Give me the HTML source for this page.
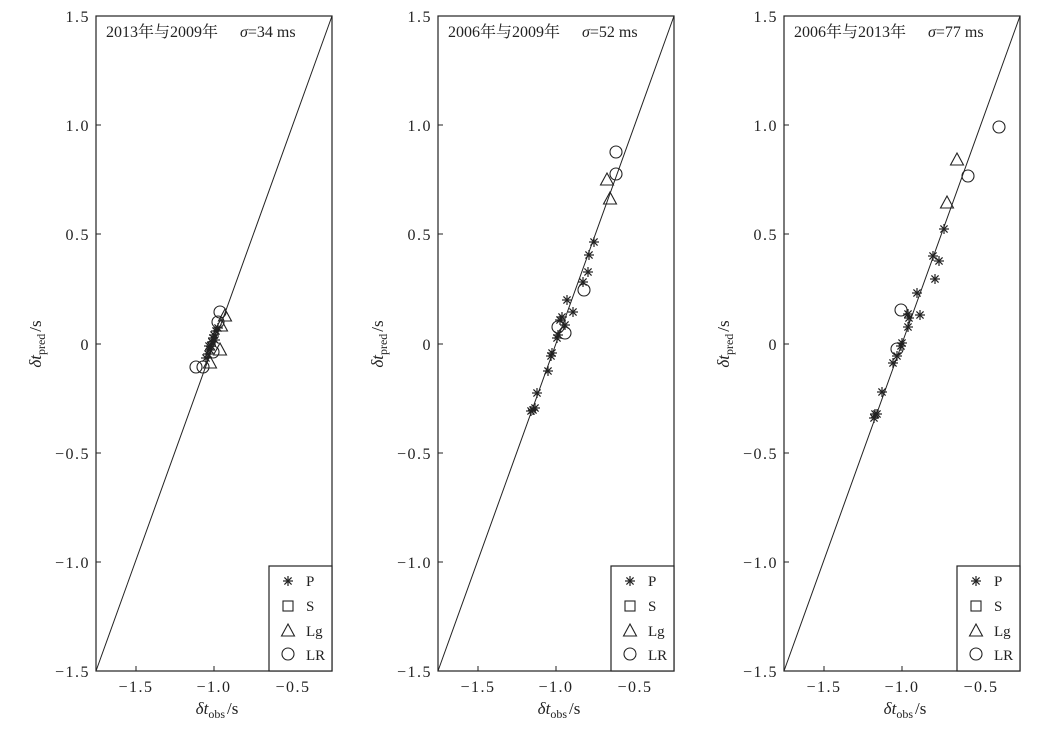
<!DOCTYPE html>
<html><head><meta charset="utf-8"><style>
html,body{margin:0;padding:0;background:#fff}
svg{display:block}
text{font-family:"Liberation Serif","Noto Serif CJK SC",serif;fill:#222}
.tk{letter-spacing:1.5px}
</style></head><body>
<svg width="1061" height="730" viewBox="0 0 1061 730" xmlns="http://www.w3.org/2000/svg">
<defs>
<g id="st" stroke="#222" stroke-width="1.2" fill="none"><line x1="-5" y1="0" x2="5" y2="0"/><line x1="0" y1="-5" x2="0" y2="5"/><line x1="-3.6" y1="-3.6" x2="3.6" y2="3.6"/><line x1="-3.6" y1="3.6" x2="3.6" y2="-3.6"/></g>
<circle id="ci" r="6" stroke="#222" stroke-width="1.1" fill="none"/>
<path id="tr" d="M0,-7 L6.5,5 L-6.5,5 Z" stroke="#222" stroke-width="1.1" fill="none"/>
<rect id="sq" x="-5" y="-5" width="10" height="10" stroke="#222" stroke-width="1.1" fill="none"/>
<g id="panel">
<rect x="96" y="16" width="236" height="655" fill="none" stroke="#222" stroke-width="1.2"/>
<line x1="96" y1="671" x2="332" y2="16" stroke="#222" stroke-width="1"/>
<g stroke="#222" stroke-width="1">
<line x1="96" y1="16" x2="101" y2="16"/><line x1="96" y1="125" x2="101" y2="125"/><line x1="96" y1="234" x2="101" y2="234"/><line x1="96" y1="344" x2="101" y2="344"/><line x1="96" y1="453" x2="101" y2="453"/><line x1="96" y1="562" x2="101" y2="562"/><line x1="96" y1="671" x2="101" y2="671"/>
<line x1="136" y1="671" x2="136" y2="666"/><line x1="214" y1="671" x2="214" y2="666"/><line x1="293" y1="671" x2="293" y2="666"/>
</g>
<g font-size="16" text-anchor="end" class="tk">
<text x="90" y="22">1.5</text><text x="90" y="131">1.0</text><text x="90" y="240">0.5</text><text x="90" y="350">0</text><text x="90" y="459">−0.5</text><text x="90" y="568">−1.0</text><text x="90" y="677">−1.5</text>
</g>
<g font-size="16" text-anchor="middle" class="tk">
<text x="136" y="692">−1.5</text><text x="214" y="692">−1.0</text><text x="293" y="692">−0.5</text>
</g>
<text x="217" y="714" font-size="17" text-anchor="middle"><tspan font-style="italic">δt</tspan><tspan font-size="12" dy="4">obs</tspan><tspan dy="-4" dx="2">/s</tspan></text>
<text transform="translate(41,344) rotate(-90)" font-size="17" text-anchor="middle"><tspan font-style="italic">δt</tspan><tspan font-size="12" dy="4">pred</tspan><tspan dy="-4" dx="2">/s</tspan></text>
<rect x="269" y="566" width="63" height="105" fill="#fff" stroke="#222" stroke-width="1.2"/>
<use href="#st" x="288" y="581"/><use href="#sq" x="288" y="606"/><use href="#tr" x="288" y="631"/><use href="#ci" x="288" y="654"/>
<g font-size="15"><text x="306" y="586">P</text><text x="306" y="611">S</text><text x="306" y="636">Lg</text><text x="306" y="660">LR</text></g>
</g>
</defs>
<use href="#panel"/>
<use href="#panel" x="342"/>
<use href="#panel" x="688"/>
<g font-size="16"><text x="106" y="37">2013年与2009年 <tspan dx="18" font-style="italic">σ</tspan>=34 ms</text>
<text x="448" y="37">2006年与2009年 <tspan dx="18" font-style="italic">σ</tspan>=52 ms</text>
<text x="794" y="37">2006年与2013年 <tspan dx="18" font-style="italic">σ</tspan>=77 ms</text></g>
<!-- panel 1 -->
<use href="#ci" x="196" y="367"/><use href="#ci" x="203" y="367"/><use href="#ci" x="220" y="312"/><use href="#ci" x="218" y="322"/><use href="#ci" x="213" y="352"/>
<use href="#tr" x="225" y="316"/><use href="#tr" x="221" y="326"/><use href="#tr" x="220" y="350"/><use href="#tr" x="210" y="363"/>
<use href="#st" x="206" y="358"/><use href="#st" x="208" y="354"/><use href="#st" x="210" y="350"/><use href="#st" x="211" y="346"/><use href="#st" x="212" y="342"/><use href="#st" x="213" y="338"/><use href="#st" x="214" y="335"/><use href="#st" x="216" y="331"/><use href="#st" x="218" y="328"/><use href="#st" x="209" y="346"/><use href="#st" x="215" y="340"/>
<!-- panel 2 -->
<use href="#ci" x="616" y="152"/><use href="#ci" x="616" y="174"/><use href="#ci" x="584" y="290"/><use href="#ci" x="558" y="327"/><use href="#ci" x="565" y="333"/>
<use href="#tr" x="607" y="180"/><use href="#tr" x="610" y="199"/>
<use href="#st" x="533" y="410"/><use href="#st" x="535" y="408"/><use href="#st" x="537" y="393"/><use href="#st" x="548" y="371"/><use href="#st" x="551" y="356"/><use href="#st" x="552" y="353"/><use href="#st" x="557" y="338"/><use href="#st" x="560" y="320"/><use href="#st" x="562" y="317"/><use href="#st" x="567" y="300"/><use href="#st" x="573" y="312"/><use href="#st" x="583" y="282"/><use href="#st" x="588" y="272"/><use href="#st" x="589" y="255"/><use href="#st" x="594" y="242"/><use href="#st" x="558" y="335"/><use href="#st" x="565" y="325"/><use href="#st" x="531" y="411"/>
<!-- panel 3 -->
<use href="#ci" x="999" y="127"/><use href="#ci" x="968" y="176"/><use href="#ci" x="901" y="310"/><use href="#ci" x="897" y="349"/>
<use href="#tr" x="957" y="160"/><use href="#tr" x="947" y="203"/>
<use href="#st" x="944" y="229"/><use href="#st" x="933" y="256"/><use href="#st" x="939" y="261"/><use href="#st" x="935" y="279"/><use href="#st" x="917" y="293"/><use href="#st" x="908" y="314"/><use href="#st" x="909" y="318"/><use href="#st" x="920" y="315"/><use href="#st" x="908" y="327"/><use href="#st" x="901" y="346"/><use href="#st" x="902" y="343"/><use href="#st" x="897" y="356"/><use href="#st" x="893" y="363"/><use href="#st" x="882" y="392"/><use href="#st" x="875" y="414"/><use href="#st" x="874" y="418"/><use href="#st" x="877" y="414"/>
</svg>
</body></html>
